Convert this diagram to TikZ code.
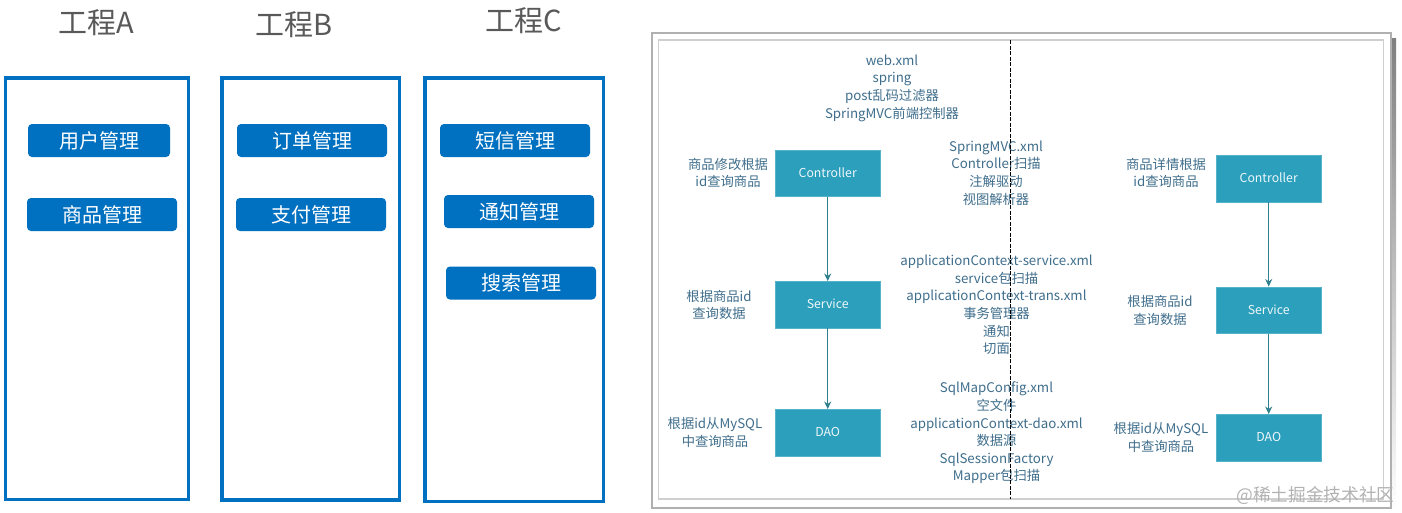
\documentclass[tikz,border=0pt]{standalone}
\usepackage{fontspec}
\setmainfont{Noto Sans CJK SC}
\usetikzlibrary{arrows.meta}
\definecolor{proj}{HTML}{0070C0}
\definecolor{teal1}{HTML}{2B9FBC}
\definecolor{arrowc}{HTML}{2F7F8C}
\definecolor{txt}{HTML}{3F6E8C}
\definecolor{head}{HTML}{595959}
\definecolor{frameo}{HTML}{B0B0B0}
\definecolor{framei}{HTML}{CFCFCF}
\definecolor{shade}{HTML}{EDEDED}
\tikzset{
  panel/.style={draw=proj,line width=3.5pt,fill=white},
  pill/.style={fill=proj,rounded corners=4pt,text=white,font=\fontsize{20}{24}\selectfont,inner sep=0pt},
  headt/.style={text=head,font=\fontsize{29}{32}\selectfont,inner sep=0pt},
  tealbox/.style={fill=teal1,draw=teal1!80!white,line width=.5pt,minimum width=105.5pt,minimum height=46.5pt,inner sep=0pt,text=white!92!teal1,font=\fontsize{12.3}{15}\selectfont},
  note/.style={text=txt,align=center,inner sep=0pt,font=\fontsize{13.3}{17.6}\selectfont},
  conn/.style={draw=arrowc,line width=.9pt,-{Stealth[length=7.5pt,width=7pt]}},
  frameout/.style={draw=frameo,line width=1.1pt},
  framein/.style={draw=framei,line width=1.1pt}
}
\begin{document}
\begin{tikzpicture}[x=1pt,y=-1pt]
\useasboundingbox (0,0) rectangle (1402,512);
% left panels
\node[headt] (ha) at (96,23) {工程A};
\node[headt] (hb) at (294.5,25) {工程B};
\node[headt] (hc) at (524,21) {工程C};
\draw[panel] (5.5,78) rectangle (188.5,499.5);
\draw[panel] (222,78) rectangle (399.5,500);
\draw[panel] (425,78) rectangle (603.5,501.5);
\node[pill,minimum width=142pt,minimum height=33pt] (a1) at (99,140.5) {用户管理};
\node[pill,minimum width=150pt,minimum height=33pt] (a2) at (102,214.5) {商品管理};
\node[pill,minimum width=150pt,minimum height=33pt] (b1) at (312,140.5) {订单管理};
\node[pill,minimum width=150pt,minimum height=33pt] (b2) at (311,214.5) {支付管理};
\node[pill,minimum width=150pt,minimum height=33pt] (c1) at (515,140.5) {短信管理};
\node[pill,minimum width=150pt,minimum height=33pt] (c2) at (519,211.5) {通知管理};
\node[pill,minimum width=150pt,minimum height=33pt] (c3) at (521,283) {搜索管理};
% right frame
\fill[shade] (656,38) rectangle (1396,511);
\fill[white] (652,33) rectangle (1391,508);
\draw[frameout] (652,33) rectangle (1391,508);
\draw[framein] (658.5,40) rectangle (1383.5,499);
\coordinate (dt) at (1010,40);
\coordinate (db) at (1010,499);
% flows
\node[tealbox] (lc) at (827.7,173) {\raisebox{1pt}{Controller}};
\node[tealbox] (ls) at (827.7,304.5) {\raisebox{1pt}{Service}};
\node[tealbox] (ld) at (827.7,432.5) {\raisebox{1pt}{DAO}};
\node[tealbox] (rc) at (1268.7,178.5) {\raisebox{1pt}{Controller}};
\node[tealbox] (rs) at (1268.7,310) {\raisebox{1pt}{Service}};
\node[tealbox] (rd) at (1268.7,437.5) {\raisebox{1pt}{DAO}};
\draw[conn] (lc) -- (ls);
\draw[conn] (ls) -- (ld);
\draw[conn] (rc) -- (rs);
\draw[conn] (rs) -- (rd);
% notes
\node[note] (n1) at (892,88) {web.xml\\spring\\post乱码过滤器\\SpringMVC前端控制器};
\node[note] (n2) at (728,173) {商品修改根据\\id查询商品};
\node[note] (n3) at (719,305) {根据商品id\\查询数据};
\node[note] (n4) at (715,432.5) {根据id从MySQL\\中查询商品};
\node[note] (n5) at (996,173) {SpringMVC.xml\\Controller扫描\\注解驱动\\视图解析器};
\node[note] (n6) at (996.5,305) {applicationContext-service.xml\\service包扫描\\applicationContext-trans.xml\\事务管理器\\通知\\切面};
\node[note] (n7) at (996.5,433) {SqlMapConfig.xml\\空文件\\applicationContext-dao.xml\\数据源\\SqlSessionFactory\\Mapper包扫描};
\node[note] (n8) at (1166,173) {商品详情根据\\id查询商品};
\node[note] (n9) at (1160,310.5) {根据商品id\\查询数据};
\node[note] (n10) at (1161,437.5) {根据id从MySQL\\中查询商品};
\draw[black,line width=1pt,dash pattern=on 4pt off 1.5pt] (dt) -- (db);
% watermark
\node[text=black!30,inner sep=0pt,font=\fontsize{17.7}{20}\selectfont] (wm) at (1315.5,495.5) {@稀土掘金技术社区};
\end{tikzpicture}
\end{document}
